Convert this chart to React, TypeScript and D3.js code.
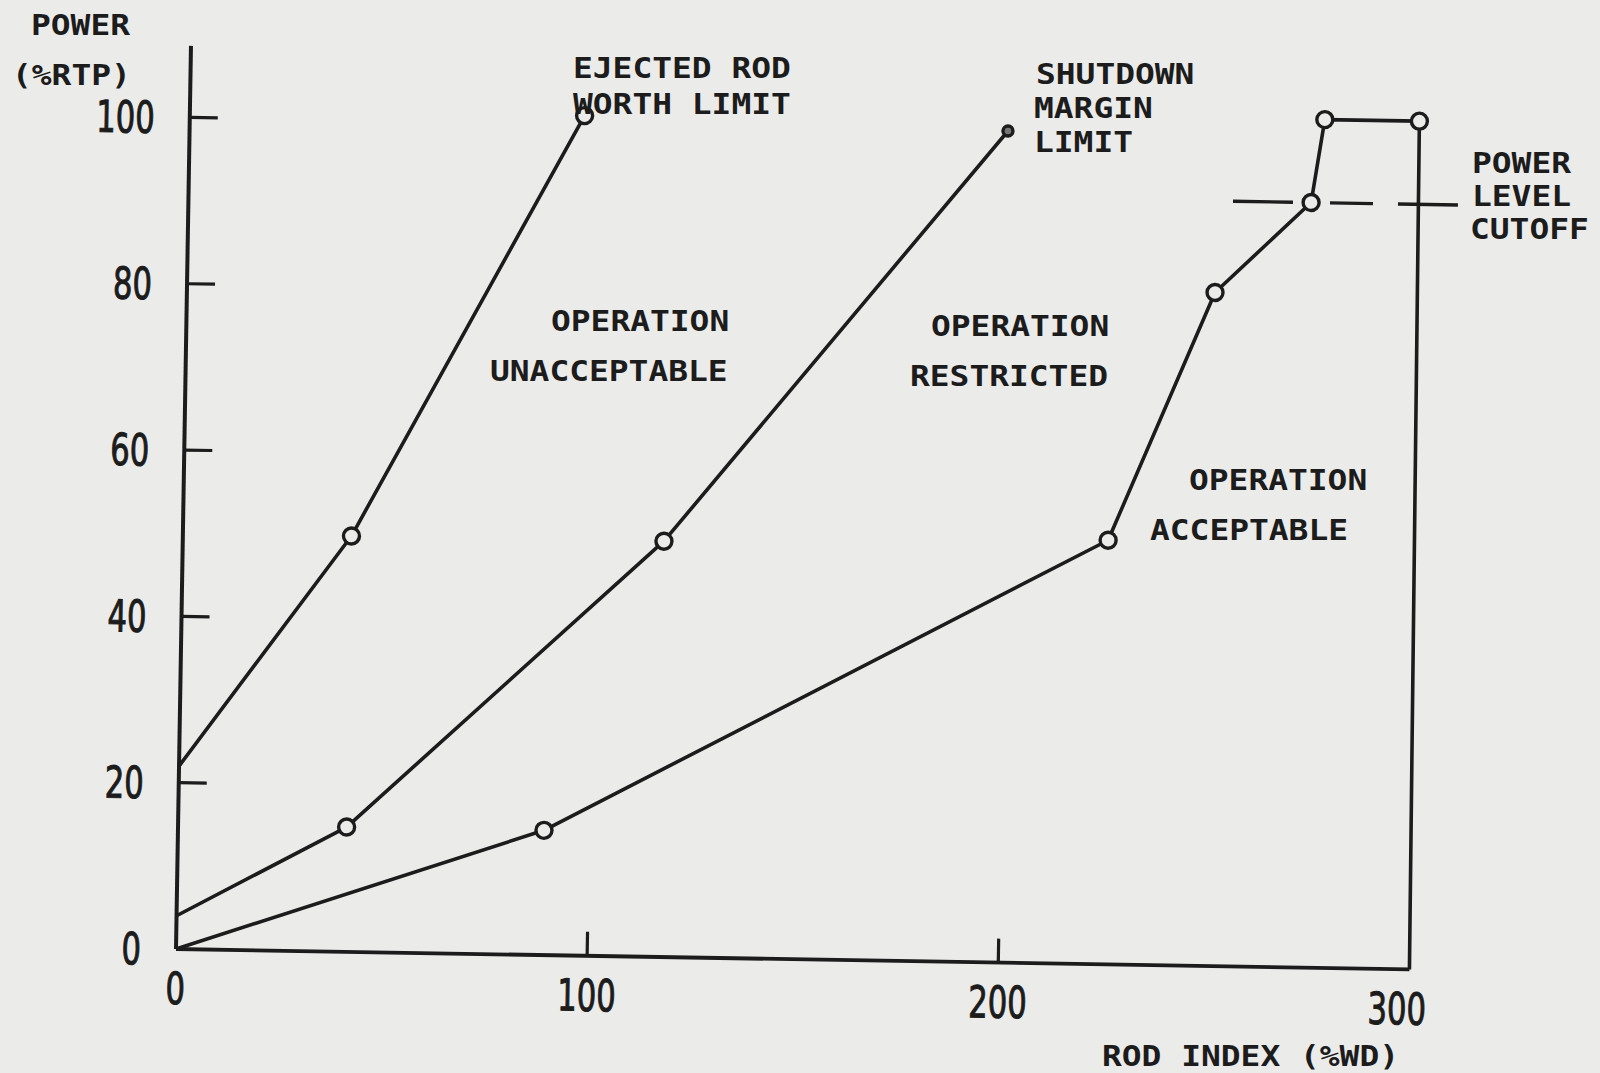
import React from "react";
import * as d3 from "d3";

const X_TICKS = [0, 100, 200, 300];
const Y_TICKS = [0, 20, 40, 60, 80, 100];

// [rod index %WD, power %RTP]
const EJECTED_ROD = [[0, 22], [41, 50], [96, 101]];
const EJECTED_MARKERS = [[41, 50], [96, 101]];
const SHUTDOWN = [[0, 4], [41, 15], [117, 50], [199, 100]];
const SHUTDOWN_MARKERS = [[41, 15], [117, 50]];
const SHUTDOWN_DOT = [[199, 100]];
const ACCEPTABLE = [[0, 0], [89, 15], [225, 51], [250, 81], [273, 92], [276, 102], [299, 102], [300, 0]];
const ACCEPTABLE_MARKERS = [[89, 15], [225, 51], [250, 81], [273, 92], [276, 102], [299, 102]];
const CUTOFF_LEVEL = 92;
const CUTOFF_RANGE = [254, 309];

const W = 1600;
const H = 1073;
const X0 = 176;
const Y0 = 949;
const ROT = 0.95;

const LABEL_FONT = "'DejaVu Sans Mono', monospace";
const NUM_FONT = "'DejaVu Sans Condensed', 'DejaVu Sans', sans-serif";
const INK = "#1c1c1c";
const BG = "#ebebea";

const x = d3.scaleLinear().domain([0, 300]).range([X0, X0 + 1233.6]);
const y = d3.scaleLinear().domain([0, 100]).range([Y0, Y0 - 831.7]);
const line = d3.line<number[]>().x((d) => x(d[0])).y((d) => y(d[1]));

const textLabels: [string, number, number][] = [
  ["POWER", 31, 35],
  ["(%RTP)", 12, 85],
  ["EJECTED ROD", 573, 78],
  ["WORTH LIMIT", 573, 114],
  ["SHUTDOWN", 1036, 84],
  ["MARGIN", 1034, 118],
  ["LIMIT", 1034, 152],
  ["POWER", 1472, 173],
  ["LEVEL", 1472, 206],
  ["CUTOFF", 1470, 239],
  ["OPERATION", 551, 331],
  ["UNACCEPTABLE", 490, 381],
  ["OPERATION", 931, 336],
  ["RESTRICTED", 910, 386],
  ["OPERATION", 1189, 490],
  ["ACCEPTABLE", 1150, 540],
  ["ROD INDEX (%WD)", 1102, 1066],
];

export default function App() {
  return (
    <svg
      width={W}
      height={H}
      style={{ position: "absolute", left: 0, top: 0, background: BG }}
    >
      <rect x={0} y={0} width={W} height={H} fill={BG} />
      <g transform={`rotate(${ROT}, ${X0}, ${Y0})`}>
        {/* axes */}
        <line x1={x(0)} y1={y(0)} x2={x(0)} y2={y(108.6)} stroke={INK} strokeWidth={4} />
        <line x1={x(0)} y1={y(0)} x2={x(300)} y2={y(0)} stroke={INK} strokeWidth={3.8} />
        {Y_TICKS.filter((t) => t > 0).map((t) => (
          <line key={"yt" + t} x1={x(0)} y1={y(t)} x2={x(0) + 28} y2={y(t)} stroke={INK} strokeWidth={3.2} />
        ))}
        {Y_TICKS.map((t) => (
          <text
            key={"yl" + t}
            x={x(0) - 35}
            y={y(t) + 16}
            textAnchor="end"
            fontFamily={NUM_FONT}
            fontSize={44}
            stroke={INK}
            strokeWidth={1}
            textLength={String(t).length * 19.5}
            lengthAdjust="spacingAndGlyphs"
            fill={INK}
          >
            {t}
          </text>
        ))}
        {X_TICKS.filter((t) => t > 0 && t < 300).map((t) => (
          <line key={"xt" + t} x1={x(t)} y1={y(0)} x2={x(t)} y2={y(0) - 24} stroke={INK} strokeWidth={3.2} />
        ))}
        {X_TICKS.map((t) => (
          <text
            key={"xl" + t}
            x={x(t) - (t === 300 ? 12 : 0)}
            y={y(0) + 55}
            textAnchor="middle"
            fontFamily={NUM_FONT}
            fontSize={44}
            stroke={INK}
            strokeWidth={1}
            textLength={String(t).length * 19.5}
            lengthAdjust="spacingAndGlyphs"
            fill={INK}
          >
            {t}
          </text>
        ))}

        {/* power level cutoff */}
        <line
          x1={x(CUTOFF_RANGE[0])}
          y1={y(CUTOFF_LEVEL)}
          x2={x(CUTOFF_RANGE[1])}
          y2={y(CUTOFF_LEVEL)}
          stroke={INK}
          strokeWidth={3.4}
          strokeDasharray="60 37 43 25 60"
        />

        {/* curves */}
        {[EJECTED_ROD, SHUTDOWN, ACCEPTABLE].map((s, i) => (
          <path key={"c" + i} d={line(s) || ""} fill="none" stroke={INK} strokeWidth={3.6} strokeLinejoin="round" />
        ))}
        {[...EJECTED_MARKERS, ...SHUTDOWN_MARKERS, ...ACCEPTABLE_MARKERS].map((p, i) => (
          <circle key={"m" + i} cx={x(p[0])} cy={y(p[1])} r={8} fill={BG} stroke={INK} strokeWidth={3.4} />
        ))}
        {SHUTDOWN_DOT.map((p, i) => (
          <circle key={"d" + i} cx={x(p[0])} cy={y(p[1])} r={5} fill="#777" stroke={INK} strokeWidth={3.4} />
        ))}
      </g>
      {textLabels.map(([t, tx, ty], i) => (
        <text
          key={"t" + i}
          x={tx}
          y={ty}
          fontFamily={LABEL_FONT}
          fontWeight="bold"
          fontSize={28}
          textLength={t.length * 19.8}
          lengthAdjust="spacingAndGlyphs"
          fill={INK}
        >
          {t}
        </text>
      ))}
    </svg>
  );
}
